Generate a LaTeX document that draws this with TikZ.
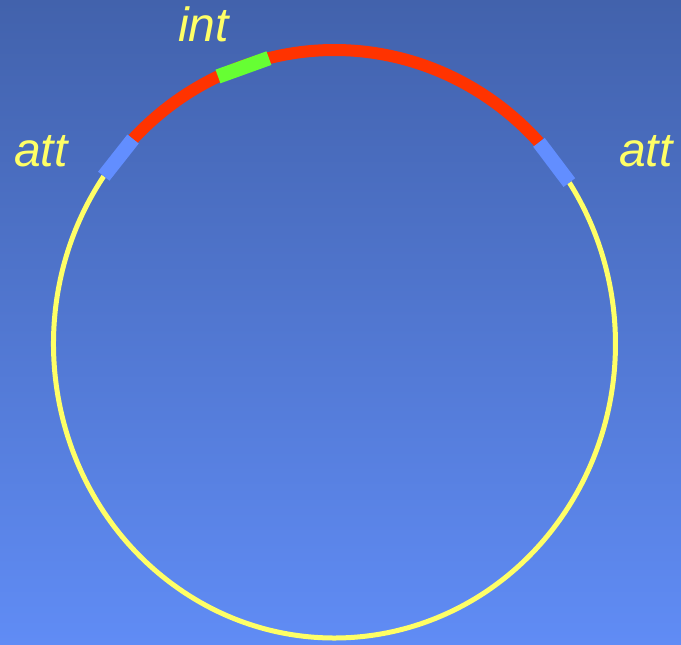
\documentclass[tikz,border=0pt]{standalone}
\usepackage{fontspec}
\setmainfont{Liberation Sans}
\usepackage{tikz}
\definecolor{bgTop}{RGB}{66,98,172}
\definecolor{bgBottom}{RGB}{96,140,245}
\definecolor{ringYellow}{RGB}{255,255,102}
\definecolor{ringRed}{RGB}{255,51,0}
\definecolor{intGreen}{RGB}{102,255,51}
\definecolor{attBlue}{RGB}{98,142,255}
\newcommand\ringRx{281}
\newcommand\ringRy{294}
\newcommand\thinW{5}
\newcommand\thickW{12}
\newcommand\boxW{14.5}
\tikzset{
    site text/.style={text=ringYellow, font=\fontsize{48}{56}\selectfont\itshape, inner sep=0, anchor=base west},
    site box/.style={line width=\boxW, line cap=butt}
}

\begin{document}
\begin{tikzpicture}[x=1pt, y=1pt]
        \useasboundingbox (0,0) rectangle (681,645);
        \shade[top color=bgTop, bottom color=bgBottom] (0,0) rectangle (681,645);

        \begin{scope}[shift={(334.5,301)}]
            % ends of the pieces on the ring
            \coordinate (attLout) at (145.2:281 and 294);
            \coordinate (attLin) at (135.8:281 and 294);
            \coordinate (intA) at (114.5:281 and 294);
            \coordinate (intB) at (103.5:281 and 294);
            \coordinate (attRin) at (43.3:281 and 294);
            \coordinate (attRout) at (33.3:281 and 294);

            \draw[ringYellow, line width=\thinW] (attLout) arc[start angle=145.2, end angle=393.3, x radius=\ringRx, y radius=\ringRy];
            \draw[ringRed, line width=\thickW] (attRin) arc[start angle=43.3, end angle=135.8, x radius=\ringRx, y radius=\ringRy];

            \draw[site box, intGreen] (intA) -- (intB);
            \draw[site box, attBlue] (attLout) -- (attLin);
            \draw[site box, attBlue] (attRin) -- (attRout);
        \end{scope}

        \node[site text] (attLeft) at (14,478.3) {att};
        \node[site text] (attRight) at (619,478.3) {att};
        \node[site text] (intLabel) at (178,603.3) {int};

    \end{tikzpicture}
\end{document}
